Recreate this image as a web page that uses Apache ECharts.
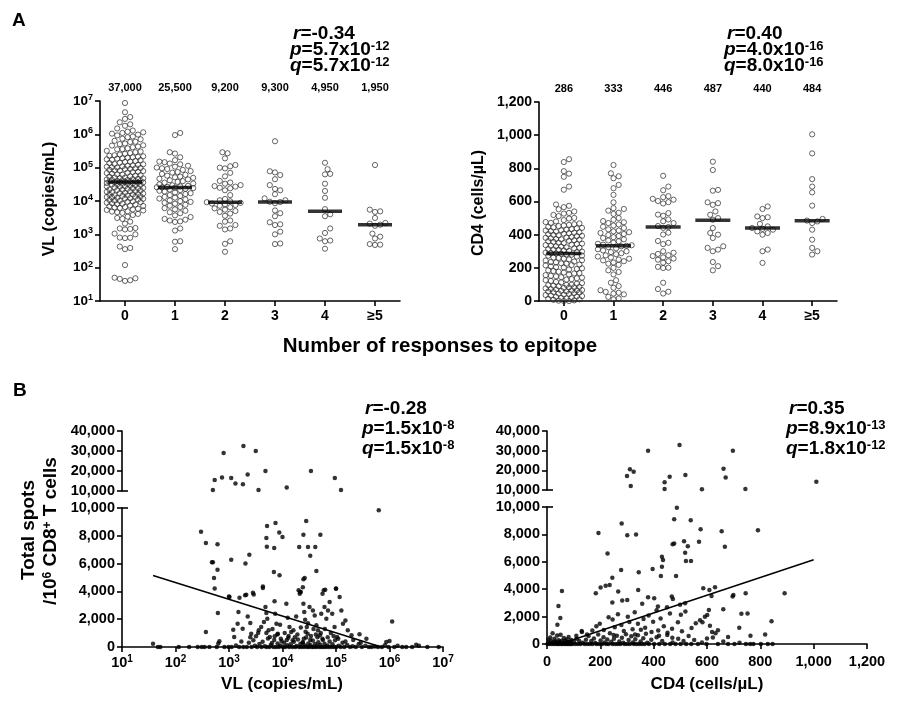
<!DOCTYPE html>
<html><head><meta charset="utf-8">
<script src="https://cdn.jsdelivr.net/npm/echarts@6/dist/echarts.min.js"></script>
<style>html,body{margin:0;padding:0;background:#fff}#c{width:898px;height:702px}</style>
</head><body><div id="c"></div>
<script>
// ---------------- DATA ----------------
const categories = ['0', '1', '2', '3', '4', '≥5'];
const vlMedians = [37000, 25500, 9200, 9300, 4950, 1950];
const cd4Medians = [286, 333, 446, 487, 440, 484];

const vlGroup0 = [8700000, 4600000, 3300000, 2900000, 2300000, 2000000, 1800000, 1500000, 1300000, 1200000, 1150000, 1100000, 1050000,
  980000, 930000, 860000, 820000, 740000, 710000, 640000, 600000, 590000, 530000, 510000, 470000, 460000, 430000, 410000, 380000, 360000, 355000, 320000, 305000, 290000, 275000, 262000, 248000, 236000, 228000, 219000, 212000, 204000, 198000, 191000, 186000, 178000, 172000, 168000, 159000, 152000, 149000, 141000, 137000, 129000, 126000, 121000, 117000, 113000, 109000, 106000, 103000, 100500,
  98000, 95500, 92000, 91000, 86500, 83000, 82000, 79000, 75500, 74000, 71000, 69000, 66500, 63000, 61500, 59000, 57500, 55000, 53500, 51000, 50200, 48800, 47600, 46300, 45100, 44200, 43000, 42500, 41200, 40300, 39800, 39100, 38700, 38000, 37600, 37000,
  36700, 36200, 35800, 34600, 34100, 33500, 32800, 31700, 31200, 30600, 29900, 28800, 27700, 27300, 26900, 25800, 24700, 24200, 23900, 23100, 22200, 21800, 21300, 20600, 19800, 19400, 18900, 18200, 17600, 17200, 16800, 16100, 15800, 15500, 14900, 14600, 14300, 13800, 13500, 13200, 12900, 12400, 12100, 11900, 11600, 11100, 10700, 10300, 10100,
  9700, 9500, 9300, 8900, 8600, 8300, 8100, 7800, 7300, 7100, 6900, 6600, 6400, 6200, 5900, 5600, 5400, 5200, 4900, 4800, 4600, 4400, 4100, 3800, 3400, 3100, 2900, 2400, 2100, 1550, 1500, 1450, 1400, 1050, 1000,
  800, 790, 770, 430, 390, 360, 120, 50, 48, 46, 42, 40];
const vlGroup1 = [1100000, 950000, 290000, 265000, 205000, 168000, 152000, 146000, 133000, 126000, 114000, 107000, 101000, 96000, 91000, 86000, 79000, 74000, 71000, 65000, 61000, 57500, 54000, 51500, 49500, 46500, 44500, 42000, 39500, 37500, 35500, 33500, 31500, 29500, 28500, 27500, 26500, 25800, 25500, 25200,
  24300, 23200, 22100, 21200, 20300, 19200, 18100, 17100, 16200, 15100, 14200, 13300, 12600, 11800, 11200, 10400, 9900, 9400, 8800, 8300, 7700, 7200, 6600, 6100, 5600, 5100, 4600, 4300, 3700, 3300, 2900, 2750, 2600, 2450, 2350, 1500, 1300, 620, 600, 360];
const vlGroup2 = [290000, 270000, 190000, 120000, 110000, 100000, 95000, 70000, 55000, 40000, 36000, 33000, 30000, 28000, 27000, 25000, 24000, 21000, 8400, 15000, 7600, 11500, 10500, 9800, 9200, 8800, 8000, 7200, 6500, 6000, 5500, 5000, 4700, 4200, 3600, 2600, 2400, 1900, 1800, 1500, 1400, 620, 520, 300];
const vlGroup3 = [620000, 78000, 72000, 60000, 45000, 30000, 23000, 21000, 16000, 12000, 10500, 9500, 9300, 8600, 5200, 4300, 3500, 2300, 2000, 1900, 1200, 1000, 530, 510];
const vlGroup4 = [140000, 90000, 65000, 63000, 33000, 20000, 12500, 5700, 4000, 3500, 1500, 1100, 750, 650, 620, 370];
const vlGroup5 = [120000, 5500, 4900, 4700, 3100, 2200, 2100, 1950, 1800, 1050, 850, 750, 510, 490, 480];

const cd4Group0 = [855, 838, 783, 768, 749, 690, 671, 582, 574, 566, 553, 540, 531, 527, 519, 512, 501, 497, 488, 480, 476, 471, 468, 463, 459, 455, 452, 447, 444, 441, 438, 433, 430, 426, 425, 421, 418, 414, 412, 409, 406, 403, 399, 396, 393, 391, 386, 383, 381, 378, 374, 372, 370, 366, 363, 361, 357, 352, 349, 346, 344, 340, 337, 333, 330, 328, 324, 321, 317, 313, 311, 309, 305, 302, 298, 295, 292, 289, 287,
  285, 281, 279, 274, 273, 268, 262, 260, 255, 251, 246, 244, 238, 235, 233, 227, 225, 220, 217, 215, 209, 204, 203, 197, 193, 190, 185, 181, 177, 171, 168, 166, 160, 156, 152, 149, 144, 141, 137, 132, 129, 126, 121, 115, 112, 108, 104, 99, 96, 92, 89, 85, 83, 79, 76, 72, 70, 66, 63, 61, 57, 54, 51, 48, 45, 43, 39, 36, 33, 30, 27, 25, 22, 19, 16, 13, 10, 7, 4, 2, 0, 0, 58, 64, 82, 97];
const cd4Group1 = [820, 770, 752, 740, 700, 680, 640, 595, 560, 555, 545, 532, 525, 500, 490, 482, 475, 470, 462, 455, 448, 440, 432, 425, 420, 415, 410, 404, 398, 392, 385, 380, 372, 365, 360, 352, 345, 340, 336, 333, 330, 325, 318, 312, 305, 300, 295, 288, 282, 275, 268, 262, 255, 250, 245, 240, 232, 225, 218, 200, 185, 175, 160, 125, 110, 90, 80, 65, 55, 50, 45, 40, 25, 15, 10];
const cd4Group2 = [755, 690, 668, 632, 626, 616, 611, 603, 596, 588, 530, 521, 514, 492, 481, 470, 452, 446, 441, 412, 401, 362, 351, 343, 300, 291, 284, 276, 271, 263, 256, 249, 240, 231, 206, 201, 199, 110, 72, 56, 45];
const cd4Group3 = [840, 790, 670, 665, 595, 590, 580, 540, 520, 500, 490, 440, 410, 400, 380, 330, 320, 310, 300, 235, 210, 185];
const cd4Group4 = [570, 555, 510, 505, 500, 465, 450, 440, 435, 430, 420, 410, 400, 310, 300, 230];
const cd4Group5 = [1005, 890, 735, 690, 655, 575, 495, 485, 480, 470, 430, 370, 320, 300, 280];

// [VL copies/mL, total spots per 10^6 CD8+ T cells]
const spotsVsVL = [
  [794,29000],[1860,32500],[3160,30000],[540,15500],[740,16800],[1100,16500],[1320,13800],[1820,13400],[2230,18300],[4800,20000],[500,10500],[3560,10500],[12000,11700],[34000,20000],[95000,16500],[124000,10500],
  [630000,9830],[300,8300],[370,7480],[610,7390],[480,6090],[500,6100],[610,5560],[525,4960],[540,4200],[1100,6280],[2030,6000],[2400,6640],[5000,7840],[5150,8700],[5100,7220],[7400,8920],[8700,8230],[10000,7910],[7000,7120],[8800,5160],[6900,5400],[4300,4240],[27700,9060],[24600,8080],[20500,7190],[30000,7190],[41000,7190],[33000,6570],[51000,8080],[43000,5470],[24600,4870],[26000,4960],[59000,4080],[63000,4120],[100000,4200],[20000,4080],[22000,3960],
  [2000,3720],[1020,3600],[1570,3550],[2800,3900],[620,2440],[370,1080],[1000,3640],[1200,1240],[1250,720],[1500,2510],[1450,1670],[2100,3760],[1800,1320],[2240,2200],[2500,1720],[2600,960],[2900,3780],[3200,770],[3600,1200],[4000,1440],[4300,4350],[4800,2870],[5000,2440],[5200,2030],[5500,1200],[5800,720],[7100,3300],[7300,2390],[7700,1670],[8200,960],[9300,600],[11800,3110],[12500,2100],[13500,1440],[14500,1080],[15500,480],[18000,2200],[21000,3830],[21300,3950],[24000,4300],[24600,3110],[25500,2510],[26500,1960],[28500,1440],[29500,960],[32000,2870],[37000,2630],[40000,2270],[43000,1560],[46000,1200],[50000,840],[53000,2390],[56000,3830],[61000,2870],[66000,2030],[71000,2630],[76000,3230],[85000,2390],[94000,1440],[100000,4190],[105000,720],[117000,3590],[126000,2630],[135000,1670],[150000,1910],[166000,1200],[195000,840],[275000,910],[370000,600],[1000000,430],[1120000,1840],[870000,360],
  [5000,1000],[6500,1300],[8000,900],[9000,1600],[11000,1000],[13000,800],[16000,1200],[19000,900],[22000,1400],[25000,600],[27000,1100],[30000,1700],[34000,800],[38000,1300],[45000,700],[52000,1000],[62000,1300],[70000,700],[80000,1000],[90000,800],[110000,600],[3500,1000],[4500,1800],[2500,700],[1700,400],[7000,500],[12000,500],[17000,700],[24000,300],[33000,500],[42000,900],[57000,500],[150000,400],[210000,500],[290000,300],
  [38,240],[47,0],[52,0],[115,0],[180,0],[260,0],[310,0],[350,0],[430,0],[590,0],[630,250],[660,420],[820,0],[980,0],[1120,0],[1350,100],[1550,0],[1850,0],[2150,0],[2350,300],[2650,0],[2850,480],[3050,90],[3350,0],[3700,210],[4050,0],[4250,380],[4650,50],[5050,0],[5350,620],[5700,0],[6050,150],[6350,290],[6800,0],[7150,780],[7600,0],[8100,260],[8600,0],[9100,110],[9600,440],[10200,0],[10700,310],[11300,0],[12200,120],[12800,660],[13300,0],[14200,190],[15300,0],[16300,370],[17300,0],[18300,80],[19400,540],[20400,0],[21500,210],[22600,0],[23800,340],[25300,0],[26400,100],[27600,690],[28700,0],[30500,250],[31600,0],[33600,130],[35500,0],[36800,470],[38600,0],[40600,210],[42700,0],[44500,60],[46600,350],[48700,0],[50800,160],[53500,0],[55800,590],[58700,0],[61000,240],[64800,0],[68900,110],[72800,0],[75900,390],[81000,0],[86000,190],[91000,0],[96000,490],[102000,0],[112000,90],[122000,0],[132000,310],[143000,0],[162000,140],[183000,0],[205000,60],[235000,0],[265000,210],[305000,0],[355000,90],[410000,0],[460000,0],[530000,40],[610000,0],[720000,0],[820000,130],[960000,0],[1230000,0],[1420000,90],[1730000,0],[2050000,0],[2650000,0],[3150000,160],[3550000,90],[5100000,0],[8300000,0]
];
// [CD4 cells/uL, total spots per 10^6 CD8+ T cells]
const spotsVsCD4 = [
  [379,30000],[497,32900],[697,30000],[300,17100],[311,20500],[325,19300],[314,12000],[441,13900],[441,10500],[460,16800],[519,17600],[581,10400],[662,20800],[670,16300],[744,10500],[1010,14200],
  [487,9950],[477,9100],[539,9030],[576,8380],[280,8790],[193,8110],[301,7940],[334,7990],[655,8230],[791,8300],[477,7340],[471,7290],[514,7500],[528,7140],[570,7460],[667,7090],[227,6610],[431,6370],[435,6130],[518,6660],[521,6050],[540,6050],[278,5400],[396,5470],[344,5230],[431,5640],[427,4960],[484,4960],[245,4840],[220,4260],[201,4120],[183,3700],[235,4310],[267,3830],[342,3950],[56,3870],[43,2780],[50,1890],[39,1400],[586,4070],[609,3950],[630,4140],[745,3700],[696,3460],[891,3700],[379,3410],[402,3340],[468,3460],[472,3290],[245,3030],[282,3170],[301,3220],[357,2930],[416,2740],[450,2690],[499,2860],[502,2130],[518,2980],[617,3510],[661,2540],[729,2200],[607,2490],
  [198,1480],[213,1020],[231,1960],[246,1790],[254,1230],[266,2170],[279,1390],[288,940],[303,1990],[309,1610],[321,1080],[329,2310],[341,1470],[352,1040],[362,1830],[368,1190],[381,2080],[392,880],[398,1620],[411,2460],[417,980],[426,1870],[438,1290],[452,820],[461,2230],[469,1120],[491,1580],[506,930],[519,2380],[542,1170],[558,1520],[574,1730],[583,1580],[592,1980],[601,2120],[611,1330],[619,880],[632,790],[641,1010],[679,520],[721,1190],[763,610],[818,690],[842,1660],[699,3580],[752,2230],[170,980],[185,1300],[150,700],[130,950],[110,600],[250,650],[330,700],[420,600],[470,450],[600,400],
  [2,0],[5,310],[8,95],[10,0],[12,480],[15,210],[18,0],[21,790],[23,120],[25,0],[28,390],[31,190],[33,0],[36,110],[38,620],[40,0],[43,280],[45,0],[48,160],[51,680],[53,0],[55,240],[58,0],[61,90],[63,440],[66,0],[68,210],[71,0],[73,330],[76,120],[78,0],[81,520],[83,0],[86,190],[89,0],[91,290],[95,0],[101,160],[106,0],[111,380],[116,0],[121,210],[126,0],[131,880],[134,90],[141,0],[146,310],[151,0],[156,590],[161,0],[166,220],[171,0],[176,410],[181,80],[186,0],[192,690],[196,0],[201,260],[207,0],[212,490],[216,110],[222,0],[226,320],[231,0],[236,780],[241,160],[246,0],[251,390],[256,0],[262,610],[266,0],[271,190],[276,0],[281,460],[286,90],[291,0],[296,710],[301,0],[306,290],[311,0],[316,560],[322,110],[326,0],[331,340],[336,0],[341,640],[346,0],[351,190],[356,0],[361,420],[366,0],[371,740],[376,90],[382,0],[391,310],[402,0],[411,490],[421,0],[432,210],[442,0],[451,660],[462,0],[471,110],[482,0],[492,380],[501,0],[512,220],[522,0],[531,590],[541,0],[552,290],[566,0],[581,110],[598,0],[622,480],[641,0],[661,190],[679,0],[703,0],[722,90],[746,0],[762,0],[774,0],[802,0],[828,0],[846,0]
];
// regression line end points
const fitVL = [[38, 5150], [700000, 0]];
const fitCD4 = [[50, 0], [1000, 6150]];

const statsA1 = ['-0.34', '5.7x10', '-12', '5.7x10', '-12'];
const statsA2 = ['0.40', '4.0x10', '-16', '8.0x10', '-16'];
const statsB1 = ['-0.28', '1.5x10', '-8', '1.5x10', '-8'];
const statsB2 = ['0.35', '8.9x10', '-13', '1.8x10', '-12'];

// ---------------- LAYOUT HELPERS ----------------
const FONT = '"Liberation Sans", Arial, Helvetica, sans-serif';
const BLACK = '#000';
const fmtK = v => Number(v).toLocaleString('en-US');
const fmtPow = v => '10{s|' + Math.round(Math.log10(v)) + '}';

// beeswarm offsets (pixels) so that circles do not overlap where possible
function swarm(vals, toPx, d, maxOff) {
  const order = vals.map((v, i) => i).sort((a, b) => toPx(vals[a]) - toPx(vals[b]));
  const placed = [], offs = new Array(vals.length);
  const step = d / 2, cands = [0];
  for (let k = 1; k * step <= maxOff + 1e-9; k++) cands.push(k * step, -k * step);
  for (const i of order) {
    const y = toPx(vals[i]);
    let bestC = 0, bestD = -1;
    for (const c of cands) {
      let md = Infinity;
      for (let j = placed.length - 1; j >= 0; j--) {
        const p = placed[j];
        if (y - p[1] >= d) break;
        const dd = Math.hypot(c - p[0], y - p[1]);
        if (dd < md) md = dd;
      }
      if (md >= d) { bestC = c; bestD = md; break; }
      if (md > bestD) { bestD = md; bestC = c; }
    }
    placed.push([bestC, y]);
    offs[i] = bestC;
  }
  return offs;
}
function swarmPoints(groups, toPx, pxPerCat) {
  const out = [];
  groups.forEach((g, ci) => {
    const offs = swarm(g, toPx, 5.2, 20);
    g.forEach((v, k) => out.push([ci + offs[k] / pxPerCat, v]));
  });
  return out;
}
const vlPoints = swarmPoints([vlGroup0, vlGroup1, vlGroup2, vlGroup3, vlGroup4, vlGroup5], v => Math.log10(v) * 200 / 6, 50);
const cd4Points = swarmPoints([cd4Group0, cd4Group1, cd4Group2, cd4Group3, cd4Group4, cd4Group5], v => v * 199 / 1200, 49.7);

const BREAK = 10000;
const vlUpper = spotsVsVL.filter(p => p[1] > BREAK), vlLower = spotsVsVL.filter(p => p[1] <= BREAK);
const cdUpper = spotsVsCD4.filter(p => p[1] > BREAK), cdLower = spotsVsCD4.filter(p => p[1] <= BREAK);

// ---------------- AXES ----------------
const lineSt = { color: BLACK, width: 1.6 };
const supRich = (fs, lh) => ({ s: { fontSize: fs, fontWeight: 'bold', fontFamily: FONT, color: BLACK, lineHeight: lh, verticalAlign: 'top' } });
function labelSt(fs, margin, extra) {
  return Object.assign({ fontFamily: FONT, fontWeight: 'bold', fontSize: fs, color: BLACK, margin: margin }, extra || {});
}
function baseAxis(extra) {
  return Object.assign({
    axisLine: { show: true, onZero: false, lineStyle: lineSt },
    axisTick: { show: true, length: 5, lineStyle: lineSt },
    splitLine: { show: false },
    minorTick: { show: false }
  }, extra);
}
const hidden = (extra) => Object.assign({ show: false, axisLine: { onZero: false }, splitLine: { show: false } }, extra);

const xAxis = [
  // 0..2 : panel A left
  baseAxis({ type: 'category', gridIndex: 0, data: categories, boundaryGap: true, axisTick: { show: true, length: 5, alignWithLabel: true, lineStyle: lineSt }, axisLabel: labelSt(14, 8) }),
  hidden({ type: 'value', gridIndex: 0, min: -0.5, max: 5.5, position: 'bottom' }),
  { type: 'category', gridIndex: 0, position: 'top', data: vlMedians.map(fmtK), axisLine: { show: false, onZero: false }, axisTick: { show: false }, axisLabel: labelSt(11, 8) },
  // 3..5 : panel A right
  baseAxis({ type: 'category', gridIndex: 1, data: categories, boundaryGap: true, axisTick: { show: true, length: 5, alignWithLabel: true, lineStyle: lineSt }, axisLabel: labelSt(14, 8) }),
  hidden({ type: 'value', gridIndex: 1, min: -0.5, max: 5.5, position: 'bottom' }),
  { type: 'category', gridIndex: 1, position: 'top', data: cd4Medians.map(fmtK), axisLine: { show: false, onZero: false }, axisTick: { show: false }, axisLabel: labelSt(11, 8) },
  // 6,7 : panel B left
  hidden({ type: 'log', logBase: 10, gridIndex: 2, min: 10, max: 1e7 }),
  baseAxis({ type: 'log', logBase: 10, gridIndex: 3, min: 10, max: 1e7, axisLabel: labelSt(14.5, 7, { formatter: fmtPow, lineHeight: 18, rich: supRich(10, 8) }) }),
  // 8,9 : panel B right
  hidden({ type: 'value', gridIndex: 4, min: 0, max: 1200 }),
  baseAxis({ type: 'value', gridIndex: 5, min: 0, max: 1200, interval: 200, axisLabel: labelSt(14.5, 10, { formatter: fmtK }) })
];
const yAxis = [
  baseAxis({ type: 'log', logBase: 10, gridIndex: 0, min: 10, max: 1e7, axisLabel: labelSt(13.5, 7, { formatter: fmtPow, lineHeight: 16, rich: supRich(9, 6) }) }),
  baseAxis({ type: 'value', gridIndex: 1, min: 0, max: 1200, interval: 200, axisLabel: labelSt(14, 7, { formatter: fmtK }) }),
  baseAxis({ type: 'value', gridIndex: 2, min: 10000, max: 40000, interval: 10000, axisLabel: labelSt(14.5, 7, { formatter: fmtK }) }),
  baseAxis({ type: 'value', gridIndex: 3, min: 0, max: 10000, interval: 2000, axisLabel: labelSt(14.5, 7, { formatter: fmtK }) }),
  baseAxis({ type: 'value', gridIndex: 4, min: 10000, max: 40000, interval: 10000, axisLabel: labelSt(14.5, 7, { formatter: fmtK }) }),
  baseAxis({ type: 'value', gridIndex: 5, min: 0, max: 10000, interval: 2000, axisLabel: labelSt(14.5, 7, { formatter: fmtK }) })
];

const gridBase = { containLabel: false, outerBoundsMode: 'none' };
const grid = [
  Object.assign({ left: 100, top: 101, width: 300, height: 200 }, gridBase),
  Object.assign({ left: 539, top: 102, width: 298, height: 199 }, gridBase),
  Object.assign({ left: 122, top: 431, width: 321, height: 60 }, gridBase),
  Object.assign({ left: 122, top: 508, width: 321, height: 139 }, gridBase),
  Object.assign({ left: 547, top: 431, width: 320, height: 59 }, gridBase),
  Object.assign({ left: 547, top: 507, width: 320, height: 137 }, gridBase)
];

// ---------------- SERIES ----------------
const openCircle = { color: 'rgba(255,255,255,0)', borderColor: '#2a2a2a', borderWidth: 0.9 };
const dot = { color: BLACK };
const series = [
  { type: 'scatter', xAxisIndex: 1, yAxisIndex: 0, data: vlPoints, symbol: 'circle', symbolSize: 5.2, itemStyle: openCircle, silent: true },
  { type: 'scatter', xAxisIndex: 1, yAxisIndex: 0, data: vlMedians.map((m, i) => [i, m]), symbol: 'rect', symbolSize: [34, 3.5], itemStyle: dot, z: 5, silent: true },
  { type: 'scatter', xAxisIndex: 4, yAxisIndex: 1, data: cd4Points, symbol: 'circle', symbolSize: 5.2, itemStyle: openCircle, silent: true },
  { type: 'scatter', xAxisIndex: 4, yAxisIndex: 1, data: cd4Medians.map((m, i) => [i, m]), symbol: 'rect', symbolSize: [35, 3.5], itemStyle: dot, z: 5, silent: true },
  { type: 'scatter', xAxisIndex: 6, yAxisIndex: 2, data: vlUpper, symbolSize: 4.5, itemStyle: dot, silent: true },
  { type: 'scatter', xAxisIndex: 7, yAxisIndex: 3, data: vlLower, symbolSize: 4.5, itemStyle: dot, silent: true },
  { type: 'line', xAxisIndex: 7, yAxisIndex: 3, data: fitVL, showSymbol: false, symbol: 'none', lineStyle: { color: BLACK, width: 1.5 }, silent: true, z: 4 },
  { type: 'scatter', xAxisIndex: 8, yAxisIndex: 4, data: cdUpper, symbolSize: 4.5, itemStyle: dot, silent: true },
  { type: 'scatter', xAxisIndex: 9, yAxisIndex: 5, data: cdLower, symbolSize: 4.5, itemStyle: dot, silent: true },
  { type: 'line', xAxisIndex: 9, yAxisIndex: 5, data: fitCD4, showSymbol: false, symbol: 'none', lineStyle: { color: BLACK, width: 1.5 }, silent: true, z: 4 }
];

// ---------------- TEXT ----------------
function txt(x, y, text, fs, opts) {
  opts = opts || {};
  return {
    type: 'text', x: x, y: y, rotation: opts.rot || 0, silent: true,
    style: {
      text: text, fontFamily: FONT, fontWeight: 'bold', fontSize: fs, fill: BLACK,
      align: opts.align || 'left', verticalAlign: 'middle',
      rich: opts.rich
    }
  };
}
function statRich(fs, sfs) {
  return {
    i: { fontStyle: 'italic', fontWeight: 'bold', fontSize: fs, fontFamily: FONT, color: BLACK, lineHeight: 20 },
    n: { fontWeight: 'bold', fontSize: fs, fontFamily: FONT, color: BLACK, lineHeight: 20 },
    s: { fontWeight: 'bold', fontSize: sfs, fontFamily: FONT, color: BLACK, lineHeight: 7, verticalAlign: 'top' }
  };
}
function stats(x, y0, gap, st, fs) {
  const rich = statRich(fs, 13);
  return [
    txt(x + 3, y0, '{i|r}{n|=' + st[0] + '}', fs, { rich }),
    txt(x, y0 + gap, '{i|p}{n|=' + st[1] + '}{s|' + st[2] + '}', fs, { rich }),
    txt(x, y0 + 2 * gap, '{i|q}{n|=' + st[3] + '}{s|' + st[4] + '}', fs, { rich })
  ];
}
const R90 = Math.PI / 2;
const graphic = [
  txt(12, 21, 'A', 19),
  txt(13, 391, 'B', 19),
  txt(50, 199, 'VL (copies/mL)', 16, { rot: R90, align: 'center' }),
  txt(479, 203, 'CD4 (cells/µL)', 16, { rot: R90, align: 'center' }),
  txt(440, 346, 'Number of responses to epitope', 20.5, { align: 'center' }),
  txt(29, 530, 'Total spots', 19, { rot: R90, align: 'center' }),
  txt(51, 531, '/10{s|6} CD8{s|+} T cells', 19, { rot: R90, align: 'center', rich: { s: { fontSize: 12, fontWeight: 'bold', fontFamily: FONT, color: BLACK, lineHeight: 8, verticalAlign: 'top' } } }),
  txt(282, 684, 'VL (copies/mL)', 17, { align: 'center' }),
  txt(707, 684, 'CD4 (cells/µL)', 17, { align: 'center' }),
  // axis-break ticks
  { type: 'line', shape: { x1: 122, y1: 491, x2: 128, y2: 491 }, style: { stroke: BLACK, lineWidth: 1.6 }, silent: true },
  { type: 'line', shape: { x1: 122, y1: 508, x2: 128, y2: 508 }, style: { stroke: BLACK, lineWidth: 1.6 }, silent: true },
  { type: 'line', shape: { x1: 547, y1: 490, x2: 553, y2: 490 }, style: { stroke: BLACK, lineWidth: 1.6 }, silent: true },
  { type: 'line', shape: { x1: 547, y1: 507, x2: 553, y2: 507 }, style: { stroke: BLACK, lineWidth: 1.6 }, silent: true }
].concat(stats(290, 34, 16, statsA1, 19), stats(724, 34, 16, statsA2, 19), stats(362, 409, 20, statsB1, 19), stats(786, 409, 20, statsB2, 19));

const chart = echarts.init(document.getElementById('c'), null, { renderer: 'canvas' });
chart.setOption({
  animation: false,
  backgroundColor: '#fff',
  grid, xAxis, yAxis, series, graphic
});
</script>
</body></html>
